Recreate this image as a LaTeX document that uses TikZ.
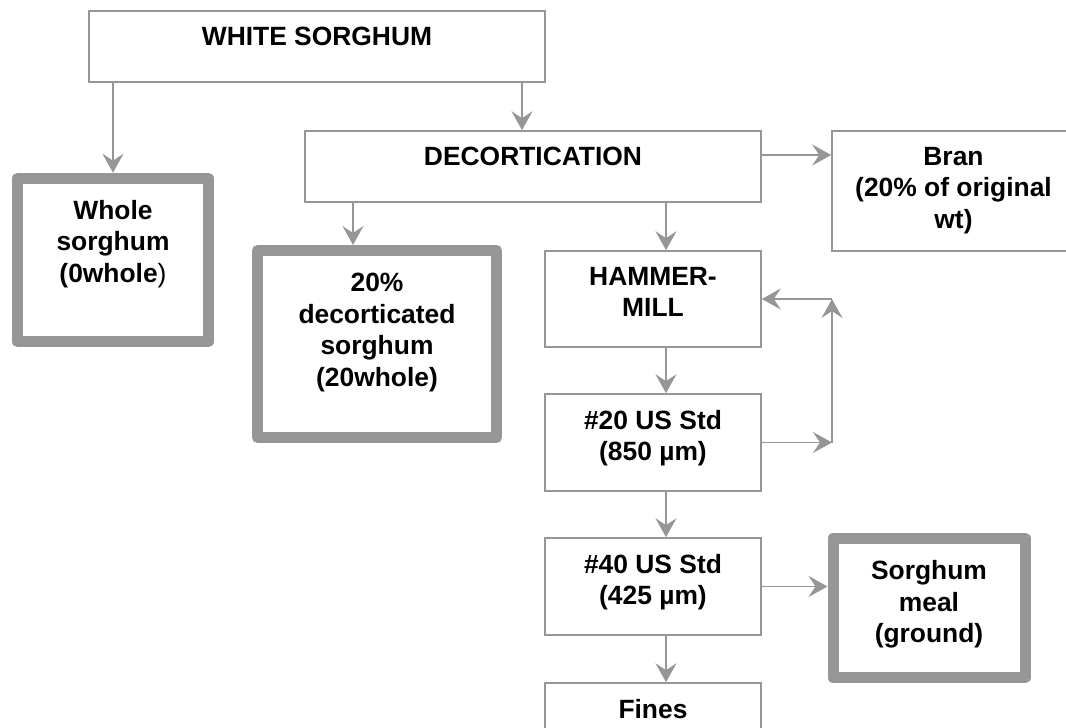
\documentclass[tikz,border=0pt]{standalone}
\usepackage{fontspec}
\setmainfont{Liberation Sans}
\usepackage{xcolor}
\usetikzlibrary{positioning,arrows.meta}
\definecolor{linegray}{RGB}{150,150,150}

\begin{document}
\begin{tikzpicture}[
    x=1pt, y=-1pt,
    box/.style={rectangle, draw=linegray, line width=1.6pt, inner sep=0pt},
    product/.style={rectangle, draw=linegray, line width=11pt, line join=round, inner sep=0pt},
    txt/.style={font=\bfseries\fontsize{26.4}{31.5}\selectfont, align=center, inner sep=0pt},
    arrow/.style={-{Stealth[length=19pt, width=21pt, inset=7pt]}, draw=linegray, line width=1.6pt}
]
\useasboundingbox (0,0) rectangle (1066,728);

% process boxes
\node[box, minimum width=456pt, minimum height=71pt] (white) at (317,46.5) {};
\node[box, minimum width=456pt, minimum height=71pt] (decort) at (533,166.5) {};
\node[box, minimum width=243pt, minimum height=120pt] (bran) at (953.5,191) {};
\node[box, minimum width=216pt, minimum height=96pt] (hammer) at (653,299) {};
\node[box, minimum width=216pt, minimum height=97pt] (sieve20) at (653,442.5) {};
\node[box, minimum width=216pt, minimum height=97pt] (sieve40) at (653,586.5) {};
\node[box, minimum width=216pt, minimum height=97pt] (fines) at (653,731.5) {};

% products
\node[product, minimum width=191pt, minimum height=163.5pt] (whole) at (113,260) {};
\node[product, minimum width=239pt, minimum height=187pt] (deco20) at (377,344) {};
\node[product, minimum width=192pt, minimum height=139.5pt] (meal) at (929,608) {};

% texts
\node[txt, below=16.5pt of white.north] (white-t) {WHITE SORGHUM};
\node[txt, below=16.5pt of decort.north] (decort-t) {DECORTICATION};
\node[txt, below=16.5pt of bran.north] (bran-t) {Bran\\(20\% of original\\wt)};
\node[txt, below=16.5pt of hammer.north] (hammer-t) {HAMMER-\\MILL};
\node[txt, below=16.5pt of sieve20.north] (sieve20-t) {\#20 US Std\\(850 µm)};
\node[txt, below=16.5pt of sieve40.north] (sieve40-t) {\#40 US Std\\(425 µm)};
\node[txt, below=16.5pt of fines.north] (fines-t) {Fines};
\node[txt, below=27pt of whole.north] (whole-t) {Whole\\sorghum\\(0whole{\mdseries)}};
\node[txt, below=28pt of deco20.north] (deco20-t) {20\%\\decorticated\\sorghum\\(20whole)};
\node[txt, below=27.5pt of meal.north] (meal-t) {Sorghum\\meal\\(ground)};

% connectors
\draw[arrow] (white.south -| whole.north) -- (whole.north);
\draw[arrow] ([xshift=205pt]white.south) -- ([xshift=205pt]white.south |- decort.north);
\draw[arrow] ([xshift=-24pt]deco20.north |- decort.south) -- ([xshift=-24pt]deco20.north);
\draw[arrow] ([yshift=11.5pt]decort.east) -- ([yshift=11.5pt]decort.east -| bran.west);
\draw[arrow] ([xshift=13pt]hammer.north |- decort.south) -- ([xshift=13pt]hammer.north);
\draw[arrow] ([xshift=13pt]hammer.south) -- ([xshift=13pt]sieve20.north);
\draw[arrow] ([xshift=13pt]sieve20.south) -- ([xshift=13pt]sieve40.north);
\draw[arrow] ([xshift=13pt]sieve40.south) -- ([xshift=13pt]fines.north);
\draw[arrow] (sieve40.east) -- (sieve40.east -| meal.west);

% recycle loop
\coordinate (loopb) at (832,442.5);
\coordinate (loopt) at (832,299);
\draw[arrow] (sieve20.east) -- (loopb);
\draw[arrow] (loopb) -- (loopt);
\draw[arrow] (loopt) -- (hammer.east);
\end{tikzpicture}
\end{document}
